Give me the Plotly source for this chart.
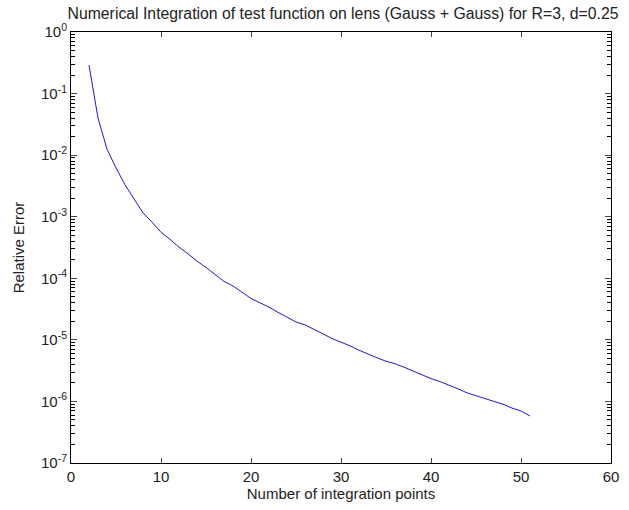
import plotly.graph_objects as go

n_points = list(range(2, 52))
rel_error = [
    0.29, 0.040, 0.0125, 6.2e-3, 3.3e-3, 1.9e-3, 1.15e-3, 8.2e-4, 5.6e-4, 4.3e-4,
    3.2e-4, 2.5e-4, 1.9e-4, 1.5e-4, 1.15e-4, 8.9e-5, 7.5e-5, 6.0e-5, 4.7e-5, 4.0e-5,
    3.4e-5, 2.8e-5, 2.3e-5, 1.95e-5, 1.75e-5, 1.5e-5, 1.25e-5, 1.05e-5, 9.2e-6, 8.0e-6,
    6.8e-6, 5.8e-6, 5.1e-6, 4.5e-6, 4.1e-6, 3.6e-6, 3.1e-6, 2.7e-6, 2.35e-6, 2.1e-6,
    1.85e-6, 1.6e-6, 1.38e-6, 1.25e-6, 1.1e-6, 1.0e-6, 9.0e-7, 7.8e-7, 7.0e-7, 5.8e-7,
]
x_ticks = [0, 10, 20, 30, 40, 50, 60]
y_tickvals = [1e-7, 1e-6, 1e-5, 1e-4, 1e-3, 1e-2, 1e-1, 1]
y_ticktext = ["10<sup>-7</sup>", "10<sup>-6</sup>", "10<sup>-5</sup>", "10<sup>-4</sup>",
              "10<sup>-3</sup>", "10<sup>-2</sup>", "10<sup>-1</sup>", "10<sup>0</sup>"]
y_minor = [m * 10.0 ** e for e in range(-7, 0) for m in range(2, 10)]

title = "Numerical Integration of test function on lens (Gauss + Gauss) for R=3, d=0.25"

FAMILY = "Liberation Sans, Arial, sans-serif"

fig = go.Figure()
fig.add_trace(go.Scatter(x=n_points, y=rel_error, mode="lines",
                         line=dict(color="#1a1acc", width=1), showlegend=False))

fig.update_layout(
    width=629, height=510,
    margin=dict(l=71, r=10, t=32, b=47),
    paper_bgcolor="white", plot_bgcolor="white",
    font=dict(family=FAMILY, size=14, color="#222222"),
    title=dict(text=title, x=0.5453, xanchor="center", y=0.974, yanchor="middle",
               font=dict(family=FAMILY, size=15.8, color="#222222")),
    xaxis=dict(range=[0, 60], tickvals=x_ticks, ticks="inside", ticklen=5,
               tickfont=dict(size=15),
               showline=True, linecolor="black", linewidth=1, mirror="allticks",
               showgrid=False, zeroline=False,
               title=dict(text="Number of integration points", standoff=3,
                          font=dict(size=15))),
    yaxis=dict(type="log", range=[-7, 0], tickvals=y_tickvals, ticktext=y_ticktext,
               ticks="inside", ticklen=6, tickfont=dict(size=15),
               showline=True, linecolor="black", linewidth=1, mirror="allticks",
               showgrid=False, zeroline=False,
               minor=dict(ticks="inside", ticklen=4, tickmode="array", tickvals=y_minor,
                          showgrid=False, tickcolor="black", tickwidth=1),
               title=dict(text="Relative Error", standoff=12, font=dict(size=15))),
)

fig.write_html("out.html")
